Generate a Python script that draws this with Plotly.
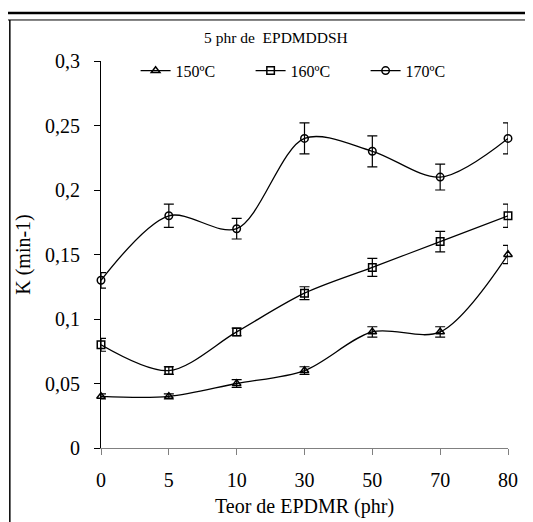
import plotly.graph_objects as go

# data
teor = ["0", "5", "10", "30", "50", "70", "80"]
k_150 = [0.040, 0.040, 0.050, 0.060, 0.090, 0.090, 0.150]
err_150 = [0.002, 0.002, 0.003, 0.003, 0.004, 0.004, 0.007]
k_160 = [0.080, 0.060, 0.090, 0.120, 0.140, 0.160, 0.180]
err_160 = [0.005, 0.003, 0.003, 0.005, 0.007, 0.008, 0.009]
k_170 = [0.130, 0.180, 0.170, 0.240, 0.230, 0.210, 0.240]
err_170 = [0.006, 0.009, 0.008, 0.012, 0.012, 0.010, 0.012]

series = [
    ("150ºC", k_150, err_150, "triangle-up-open"),
    ("160ºC", k_160, err_160, "square-open"),
    ("170ºC", k_170, err_170, "circle-open"),
]

FONT = "Liberation Serif"
xpos = list(range(len(teor)))

fig = go.Figure()
for name, vals, errs, sym in series:
    fig.add_trace(go.Scatter(
        x=xpos, y=vals, name=name,
        mode="lines+markers",
        line=dict(color="black", width=1.3, shape="spline", smoothing=0.9),
        marker=dict(symbol=sym, size=7.5, color="black", line=dict(width=1.5)),
        error_y=dict(type="data", array=errs, visible=True,
                     color="black", thickness=1.2, width=5),
        cliponaxis=False,
    ))

# page body adds an 8px offset, so the figure is 8px smaller and shifted margins
fig.update_layout(
    width=525, height=514,
    margin=dict(l=93, r=25, t=53, b=74, autoexpand=False),
    paper_bgcolor="white", plot_bgcolor="white",
    separators=",.",
    font=dict(family=FONT, color="black", size=20),
    showlegend=True,
    legend=dict(orientation="h", x=0.085, y=0.975, xanchor="left", yanchor="middle",
                font=dict(size=16, family=FONT), entrywidth=70, entrywidthmode="pixels",
                itemwidth=30, bgcolor="rgba(0,0,0,0)"),
)

fig.update_xaxes(
    tickmode="array", tickvals=xpos, ticktext=teor,
    range=[0, len(teor) - 1], automargin=False,
    showgrid=False, zeroline=False,
    showline=True, linecolor="#808080", linewidth=1.2,
    ticks="outside", ticklen=6, tickcolor="#808080",
    tickfont=dict(size=20, family=FONT), ticklabelstandoff=8,
    title=dict(text="Teor de EPDMR (phr)", font=dict(size=20, family=FONT), standoff=8),
)
fig.update_yaxes(
    range=[0, 0.3], dtick=0.05, automargin=False,
    showgrid=False, zeroline=False,
    showline=True, linecolor="black", linewidth=1.2,
    ticks="outside", ticklen=6, tickcolor="black",
    tickfont=dict(size=20, family=FONT), ticklabelstandoff=10,
    title=dict(text="K (min-1)", font=dict(size=20, family=FONT), standoff=8),
)

# chart title
fig.add_annotation(text="5 phr de  EPDMDDSH", xref="paper", yref="paper",
                   x=0.43, y=1.062, xanchor="center", yanchor="middle",
                   showarrow=False, font=dict(size=15.5, family=FONT))

# frame lines around the chart
fig.add_shape(type="line", xref="paper", yref="paper",
              x0=-0.25, x1=1.07, y0=1.124, y1=1.124,
              line=dict(color="black", width=2.5))
fig.add_shape(type="line", xref="paper", yref="paper",
              x0=-0.25, x1=1.07, y0=1.106, y1=1.106,
              line=dict(color="black", width=1))
fig.add_shape(type="line", xref="paper", yref="paper",
              x0=-0.224, x1=-0.224, y0=1.106, y1=-0.2,
              line=dict(color="black", width=1.5))

fig.write_html("out.html")
